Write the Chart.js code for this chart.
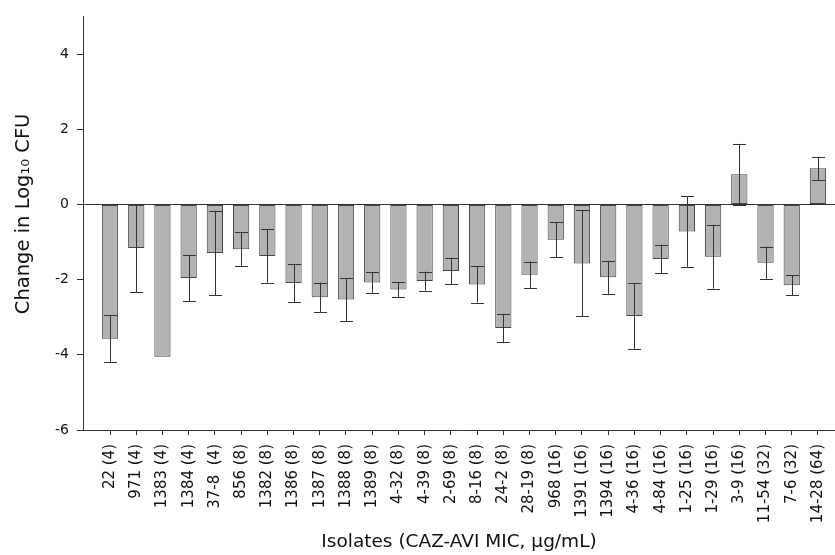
<!DOCTYPE html>
<html>
<head>
<meta charset="utf-8">
<script src="https://cdn.jsdelivr.net/npm/chart.js@4"></script>
<style>
  html, body { margin: 0; padding: 0; background: #fff; }
  #wrap { width: 835px; height: 555px; }
</style>
</head>
<body>
<div id="wrap"><canvas id="isolateChart" width="835" height="555"></canvas></div>
<script>
var isolates = ["22 (4)", "971 (4)", "1383 (4)", "1384 (4)", "37-8  (4)", "856 (8)", "1382 (8)", "1386 (8)",
    "1387 (8)", "1388 (8)", "1389 (8)", "4-32 (8)", "4-39 (8)", "2-69 (8)", "8-16 (8)", "24-2 (8)",
    "28-19 (8)", "968 (16)", "1391 (16)", "1394 (16)", "4-36 (16)", "4-84 (16)", "1-25 (16)", "1-29 (16)",
    "3-9 (16)", "11-54 (32)", "7-6 (32)", "14-28 (64)"];

var logChange = [-3.57, -1.16, -4.05, -1.96, -1.29, -1.19, -1.37, -2.09,
    -2.47, -2.53, -2.08, -2.26, -2.04, -1.77, -2.13, -3.29,
    -1.87, -0.94, -1.57, -1.94, -2.97, -1.45, -0.72, -1.39,
    0.80, -1.55, -2.15, 0.96];

var errorSD = [0.63, 1.17, 0, 0.62, 1.12, 0.45, 0.71, 0.51,
    0.39, 0.57, 0.27, 0.20, 0.25, 0.35, 0.48, 0.37,
    0.35, 0.46, 1.41, 0.44, 0.87, 0.38, 0.94, 0.85,
    0.81, 0.43, 0.26, 0.31];

var yTicks = [-6, -4, -2, 0, 2, 4];

var axisColor = "#333333";
var font = "'DejaVu Sans', sans-serif";

// error bars drawn with the chart's own scales
var errorBars = {
    id: "errorBars",
    afterDatasetsDraw: function(chart) {
        var c = chart.ctx;
        var xs = chart.scales.x, ys = chart.scales.y;
        c.save();
        c.strokeStyle = "#333";
        c.lineWidth = 1;
        logChange.forEach(function(v, i) {
            var e = errorSD[i];
            if (!e) return;
            var x = Math.round(xs.getPixelForValue(i)) + 0.5;
            var top = ys.getPixelForValue(v + e);
            var bot = ys.getPixelForValue(v - e);
            var half = 6.5;
            c.beginPath();
            c.moveTo(x, top); c.lineTo(x, bot);
            c.moveTo(x - half, Math.round(top) + 0.5); c.lineTo(x + half, Math.round(top) + 0.5);
            c.moveTo(x - half, Math.round(bot) + 0.5); c.lineTo(x + half, Math.round(bot) + 0.5);
            c.stroke();
        });
        c.restore();
    }
};

var ctx = document.getElementById("isolateChart").getContext("2d");

var chart = new Chart(ctx, {
    type: "bar",
    data: {
        datasets: [{
            data: logChange.map(function(v, i) { return { x: i, y: v }; }),
            backgroundColor: "#b2b2b2",
            borderColor: "#444444",
            borderWidth: 1,
            borderSkipped: false,
            barPercentage: 0.62,
            categoryPercentage: 1
        }]
    },
    plugins: [errorBars],
    options: {
        responsive: false,
        animation: false,
        layout: { padding: { top: 9, right: 0, left: 0, bottom: 0 } },
        plugins: {
            legend: { display: false },
            tooltip: { enabled: false }
        },
        scales: {
            x: {
                type: "linear",
                offset: false,
                min: -1.03,
                max: 27.65,
                afterBuildTicks: function(scale) {
                    scale.ticks = isolates.map(function(_, i) { return { value: i }; });
                },
                afterFit: function(scale) {
                    scale.height = 125;
                    scale.paddingLeft = 0;
                    scale.paddingRight = 0;
                },
                border: { color: axisColor, width: 1 },
                grid: { offset: false, drawOnChartArea: false, drawTicks: true, tickLength: 5, tickColor: axisColor },
                ticks: {
                    autoSkip: false,
                    maxRotation: 90,
                    minRotation: 90,
                    padding: 9,
                    color: "#111",
                    font: { family: font, size: 15 },
                    callback: function(value) { return isolates[value]; }
                },
                title: {
                    display: true,
                    text: "Isolates (CAZ-AVI MIC, \u03bcg/mL)",
                    color: "#111",
                    font: { family: font, size: 18.5 },
                    padding: { top: 4, bottom: 2 }
                }
            },
            y: {
                min: -6,
                max: 5,
                afterBuildTicks: function(scale) {
                    scale.ticks = yTicks.map(function(v) { return { value: v }; });
                },
                afterFit: function(scale) { scale.width = 83; },
                border: { color: axisColor, width: 1 },
                grid: {
                    drawOnChartArea: true,
                    drawTicks: true,
                    tickLength: 6,
                    tickColor: axisColor,
                    color: function(c) { return c.tick && c.tick.value === 0 ? axisColor : "rgba(0,0,0,0)"; }
                },
                ticks: {
                    padding: 8,
                    color: "#111",
                    font: { family: font, size: 14 }
                },
                title: {
                    display: true,
                    text: "   Change in Log\u2081\u2080 CFU",
                    color: "#111",
                    font: { family: font, size: 19.5 },
                    padding: { top: 12, bottom: 0 }
                }
            }
        }
    }
});
</script>
</body>
</html>
